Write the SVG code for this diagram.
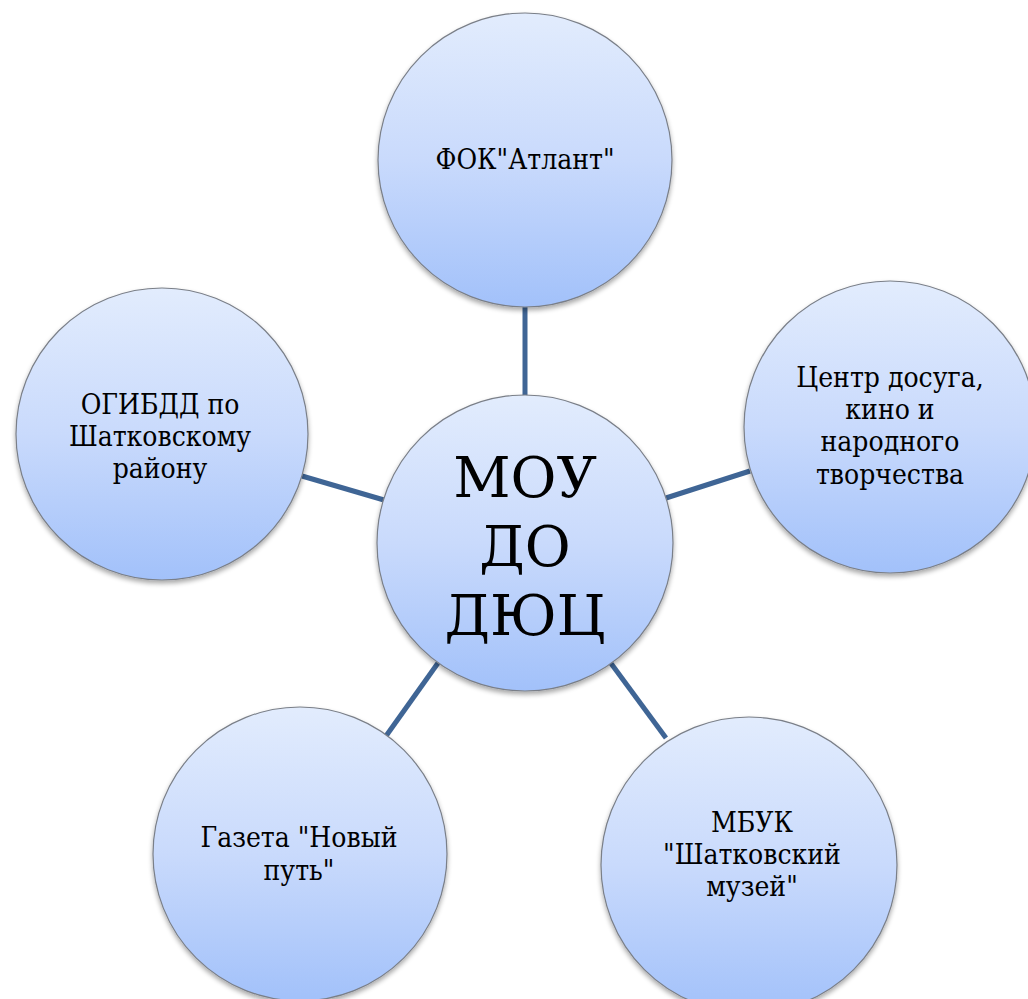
<svg xmlns="http://www.w3.org/2000/svg" width="1028" height="999" viewBox="0 0 1028 999">
<defs>
<linearGradient id="g" x1="0" y1="0" x2="0" y2="1">
<stop offset="0" stop-color="#e2ecfd"/>
<stop offset="0.5" stop-color="#c9dafc"/>
<stop offset="1" stop-color="#a2c1fa"/>
</linearGradient>
<filter id="sh" x="-10%" y="-10%" width="120%" height="125%">
<feGaussianBlur in="SourceAlpha" stdDeviation="2.5"/>
<feOffset dx="0" dy="3" result="b"/>
<feComponentTransfer><feFuncA type="linear" slope="0.35"/></feComponentTransfer>
<feMerge><feMergeNode/><feMergeNode in="SourceGraphic"/></feMerge>
</filter>
</defs>
<style>
.n{fill:url(#g);stroke:#7a7f88;stroke-width:1.2;filter:url(#sh)}
.t{font-family:'DejaVu Serif',serif;font-stretch:condensed;font-size:28px;fill:#000;text-anchor:middle}
.big{font-stretch:normal;font-size:56px}
.c{stroke:#3f6595;stroke-width:5;fill:none}
</style>
<rect width="1028" height="999" fill="#fff"/>
<g id="connectors">
<line class="c" x1="525" y1="307" x2="525" y2="396"/>
<line class="c" x1="666" y1="498" x2="750" y2="471"/>
<line class="c" x1="384" y1="500" x2="302" y2="476"/>
<line class="c" x1="438" y1="663" x2="386" y2="736"/>
<line class="c" x1="610" y1="662" x2="666" y2="738"/>
</g>
<g id="node-top">
<circle class="n" cx="525" cy="160" r="147"/>
<text class="t" x="525" y="169">ФОК"Атлант"</text>
</g>
<g id="node-right">
<circle class="n" cx="890" cy="427" r="146"/>
<text class="t" x="890" y="387">Центр досуга,</text>
<text class="t" x="890" y="419">кино и</text>
<text class="t" x="890" y="451">народного</text>
<text class="t" x="890" y="484">творчества</text>
</g>
<g id="node-left">
<circle class="n" cx="162" cy="434" r="146"/>
<text class="t" x="160" y="414">ОГИБДД по</text>
<text class="t" x="160" y="446">Шатковскому</text>
<text class="t" x="160" y="478">району</text>
</g>
<g id="node-bottom-left">
<circle class="n" cx="300" cy="854" r="147"/>
<text class="t" x="299" y="847">Газета "Новый</text>
<text class="t" x="299" y="880">путь"</text>
</g>
<g id="node-bottom-right">
<circle class="n" cx="749" cy="865" r="148"/>
<text class="t" x="752" y="832">МБУК</text>
<text class="t" x="752" y="864">"Шатковский</text>
<text class="t" x="752" y="896">музей"</text>
</g>
<g id="node-center">
<circle class="n" cx="525" cy="543" r="148"/>
<text class="t big" x="525" y="497">МОУ</text>
<text class="t big" x="525" y="566">ДО</text>
<text class="t big" x="525" y="635">ДЮЦ</text>
</g>
</svg>
